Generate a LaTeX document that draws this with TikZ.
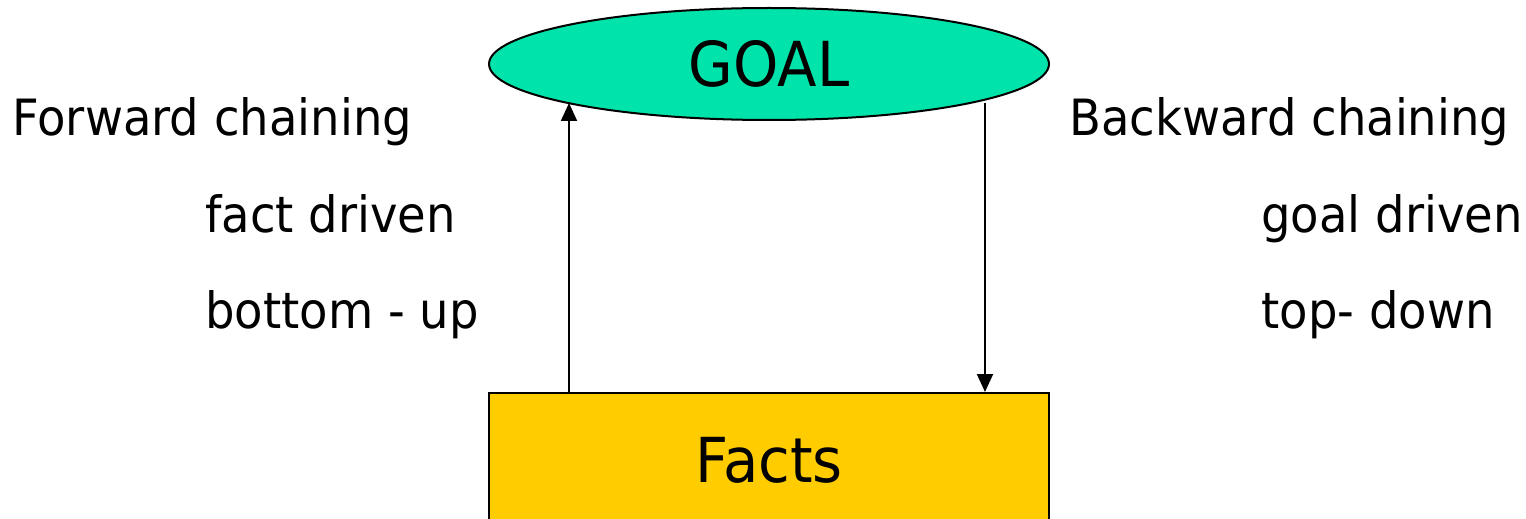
\documentclass[tikz,border=0pt]{standalone}
\usepackage{fontspec}
\setmainfont{DejaVu Sans}[FakeStretch=0.93]
\usetikzlibrary{shapes.geometric,arrows.meta}
\definecolor{goalfill}{HTML}{00E3AA}
\definecolor{factfill}{HTML}{FFCC00}
\begin{document}
\begin{tikzpicture}[x=0.5pt,y=-0.5pt,
  lbl/.style={anchor=base west,inner sep=0pt,font=\fontsize{25}{30}\selectfont},
  arr/.style={line width=1pt,-{Triangle[length=9pt,width=8pt]}},
  goalbox/.style={ellipse,draw,line width=1pt,fill=goalfill,minimum width=280pt,minimum height=56pt,inner sep=0pt,font=\fontsize{31}{36}\selectfont},
  factbox/.style={rectangle,draw,line width=1pt,fill=factfill,minimum width=280pt,minimum height=67pt,inner sep=0pt,font=\fontsize{31}{36}\selectfont}]
\useasboundingbox (0,0) rectangle (1526,519);
\clip (0,0) rectangle (1526,519);
% goal ellipse and fact box
\node[goalbox] (goal) at (769,64) {\raisebox{-2pt}{GOAL}};
\node[factbox] (facts) at (769,460) {Facts};
% side labels
\node[lbl] (fwd) at (12,136) {Forward chaining};
\node[lbl] (fd) at (205,232) {fact driven};
\node[lbl] (bu) at (205,328) {bottom - up};
\node[lbl] (bwd) at (1069,136) {Backward chaining};
\node[lbl] (gd) at (1261,232) {goal driven};
\node[lbl] (td) at (1261,328) {top- down};
% points where the arrows meet the ellipse
\coordinate (upend) at (569,103);
\coordinate (downstart) at (985,103);
% chaining directions
\draw[arr] (upend |- facts.north) -- (upend);
\draw[arr] (downstart) -- (downstart |- facts.north);
\end{tikzpicture}
\end{document}
